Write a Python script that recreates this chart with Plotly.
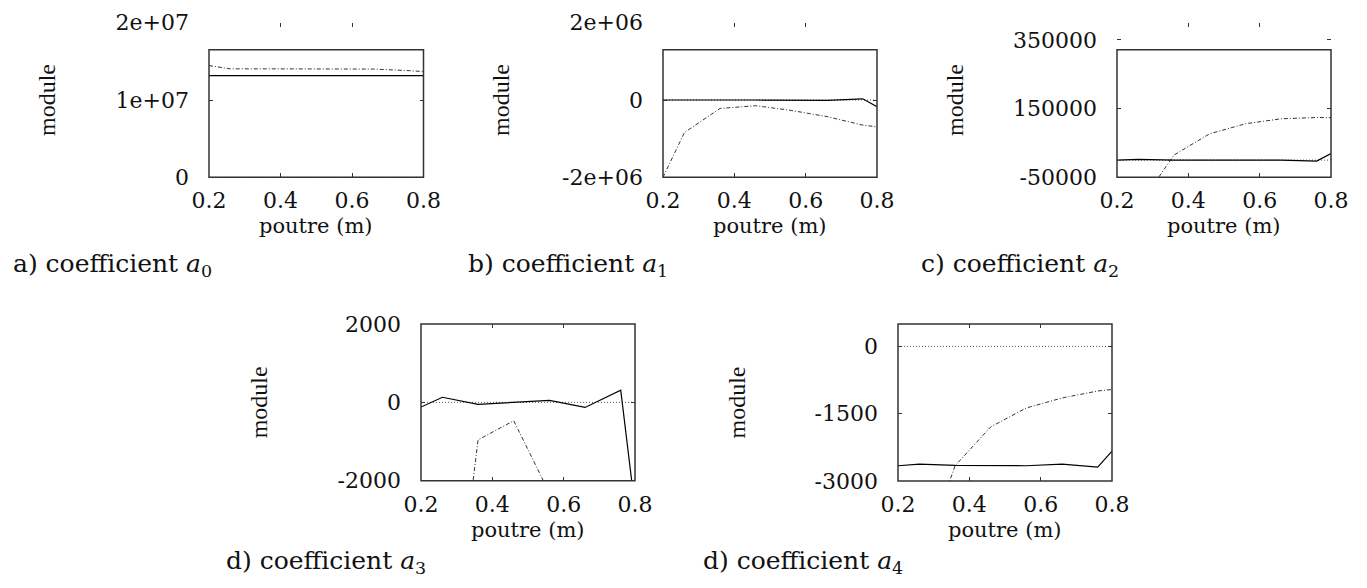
import plotly.graph_objects as go

# ---------------- data ----------------
x_pos = [0.2, 0.26, 0.36, 0.46, 0.56, 0.66, 0.76, 0.8]

a0_solid = [13160000, 13160000, 13160000, 13160000, 13160000, 13160000, 13160000, 13160000]
a0_dashdot = [14450000, 14030000, 14030000, 14050000, 14050000, 14000000, 13800000, 13680000]
a0_dotted = [0, 0, 0, 0, 0, 0, 0, 0]

a1_solid = [0, 5000, 0, 0, 0, -10000, 30000, -174000]
a1_dashdot = [-2000000, -842000, -218000, -148000, -270000, -430000, -650000, -694000]
a1_dotted = [0, 0, 0, 0, 0, 0, 0, 0]

a2_solid = [0, 2000, 0, 0, 0, 0, -3000, 19400]
a2_dashdot = [-250000, -135000, 15000, 76800, 105800, 120300, 124000, 123500]
a2_dotted = [0, 0, 0, 0, 0, 0, 0, 0]

a3_solid = [-120, 130, -50, 0, 50, -130, 310, -2700]
a3_dashdot = [-12000, -8400, -957, -470, -2313, -3500, -4500, -5000]
a3_dotted = [0, 0, 0, 0, 0, 0, 0, 0]

a4_solid = [-2660, -2622, -2651, -2655, -2660, -2622, -2689, -2333]
a4_dashdot = [-8000, -4927, -2660, -1793, -1371, -1149, -993, -960]
a4_dotted = [0, 0, 0, 0, 0, 0, 0, 0]

x_ticks = [0.2, 0.4, 0.6, 0.8]
x_ticklabels = ["0.2", "0.4", "0.6", "0.8"]

y_ticks = {
    "a": [0, 10000000, 20000000],
    "b": [-2000000, 0, 2000000],
    "c": [-50000, 150000, 350000],
    "d": [-2000, 0, 2000],
    "e": [-3000, -1500, 0],
}
y_ticklabels = {
    "a": ["0", "1e+07", "2e+07"],
    "b": ["-2e+06", "0", "2e+06"],
    "c": ["-50000", "150000", "350000"],
    "d": ["-2000", "0", "2000"],
    "e": ["-3000", "-1500", "0"],
}
y_ranges = {
    "a": [0, 20000000],
    "b": [-2000000, 2000000],
    "c": [-50000, 400000],
    "d": [-2000, 2000],
    "e": [-3000, 500],
}
captions = {
    "a": "a) coefficient <i>a</i><sub>0</sub>",
    "b": "b) coefficient <i>a</i><sub>1</sub>",
    "c": "c) coefficient <i>a</i><sub>2</sub>",
    "d": "d) coefficient <i>a</i><sub>3</sub>",
    "e": "d) coefficient <i>a</i><sub>4</sub>",
}
series = {
    "a": (a0_solid, a0_dashdot, a0_dotted),
    "b": (a1_solid, a1_dashdot, a1_dotted),
    "c": (a2_solid, a2_dashdot, a2_dotted),
    "d": (a3_solid, a3_dashdot, a3_dotted),
    "e": (a4_solid, a4_dashdot, a4_dotted),
}

# ---------------- layout geometry (page pixels) ----------------
W, H = 1367, 588
OFF = 8  # page body margin offset of the figure
# left, right, top, bottom of each plot area (page px), frame top fraction
boxes = {
    "a": (209, 423.5, 22.7, 177.3, 0.825),
    "b": (663, 877, 22.7, 177.3, 0.825),
    "c": (1117, 1331, 22.7, 177.3, 0.825),
    "d": (421, 635, 324, 480.7, 1.0),
    "e": (898, 1112, 324, 481, 1.0),
}
caption_pos = {  # left x, center y (page px)
    "a": (11, 265),
    "b": (466, 265),
    "c": (919, 265),
    "d": (224, 562),
    "e": (701, 562),
}

TICK_FONT = dict(family="DejaVu Serif", size=22, color="#111")
FRAME_COLOR = "#333"


def fx(px):
    return (px - OFF) / W


def fy(py):
    return 1 - (py - OFF) / H


fig = go.Figure()
layout = dict(
    width=W, height=H, margin=dict(l=0, r=0, t=0, b=0, pad=0, autoexpand=False),
    paper_bgcolor="white", plot_bgcolor="white", showlegend=False,
)
annotations = []
shapes = []

for i, key in enumerate(["a", "b", "c", "d", "e"]):
    n = i + 1
    xa = "xaxis" if n == 1 else f"xaxis{n}"
    ya = "yaxis" if n == 1 else f"yaxis{n}"
    xr = "x" if n == 1 else f"x{n}"
    yr = "y" if n == 1 else f"y{n}"
    l, r, t, b, ftop = boxes[key]
    layout[xa] = dict(
        domain=[fx(l), fx(r)], anchor=yr, range=[0.2, 0.8], automargin=False,
        tickvals=x_ticks, ticktext=x_ticklabels, ticks="inside", ticklen=4,
        tickcolor=FRAME_COLOR, mirror="ticks", showline=False, showgrid=False,
        zeroline=False, tickfont=TICK_FONT, ticklabelstandoff=8,
    )
    layout[ya] = dict(
        domain=[fy(b), fy(t)], anchor=xr, range=y_ranges[key], automargin=False,
        tickvals=y_ticks[key], ticktext=y_ticklabels[key], ticks="inside", ticklen=4,
        tickcolor=FRAME_COLOR, mirror="ticks", showline=False, showgrid=False,
        zeroline=False, tickfont=TICK_FONT, ticklabelstandoff=19,
    )
    solid, dashdot, dotted = series[key]
    fig.add_trace(go.Scatter(x=x_pos, y=dotted, mode="lines", xaxis=xr, yaxis=yr,
                             line=dict(color="#555", width=1, dash="1px,2px")))
    fig.add_trace(go.Scatter(x=x_pos, y=dashdot, mode="lines", xaxis=xr, yaxis=yr,
                             line=dict(color="#333", width=1, dash="4px,2px,1px,2px")))
    fig.add_trace(go.Scatter(x=x_pos, y=solid, mode="lines", xaxis=xr, yaxis=yr,
                             line=dict(color="#000", width=1.2)))
    shapes.append(dict(type="rect", xref=f"{xr} domain", yref=f"{yr} domain",
                       x0=0, x1=1, y0=0, y1=ftop,
                       line=dict(color=FRAME_COLOR, width=1.5), fillcolor="rgba(0,0,0,0)"))
    # axis titles
    annotations.append(dict(text="poutre (m)", xref=f"{xr} domain", yref=f"{yr} domain",
                            x=0.5, y=0, yshift=-49, xanchor="center", yanchor="middle",
                            showarrow=False,
                            font=dict(family="DejaVu Serif", size=21, color="#111")))
    annotations.append(dict(text="module", xref=f"{xr} domain", yref=f"{yr} domain",
                            x=0, y=0.5, xshift=-162, xanchor="center", yanchor="middle",
                            textangle=-90, showarrow=False,
                            font=dict(family="Liberation Serif", size=24, color="#111")))
    cx, cy = caption_pos[key]
    annotations.append(dict(text=captions[key], xref="paper", yref="paper",
                            x=fx(cx), y=fy(cy), xanchor="left", yanchor="middle",
                            showarrow=False,
                            font=dict(family="DejaVu Serif", size=25, color="#111")))

layout["annotations"] = annotations
layout["shapes"] = shapes
fig.update_layout(**layout)
fig.write_html("out.html")
